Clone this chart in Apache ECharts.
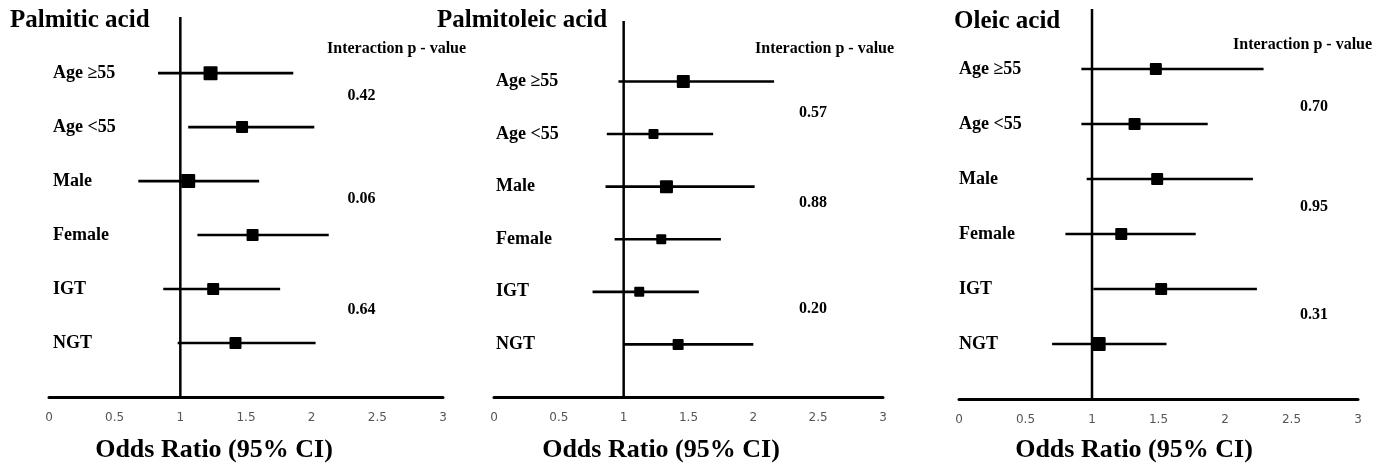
<!DOCTYPE html>
<html>
<head>
<meta charset="utf-8">
<script src="https://cdn.jsdelivr.net/npm/echarts@6/dist/echarts.min.js"></script>
<style>
html,body{margin:0;padding:0;background:#fff;}
#chart{width:1389px;height:464px;}
</style>
</head>
<body>
<div id="chart"></div>
<script>
// ---------- DATA ----------
const panelTitles = ['Palmitic acid', 'Palmitoleic acid', 'Oleic acid'];
const subgroups = ['Age \u226555', 'Age <55', 'Male', 'Female', 'IGT', 'NGT'];
const xTicks = [0, 0.5, 1, 1.5, 2, 2.5, 3];
const refValue = 1;
const headerText = 'Interaction p - value';
const axisTitle = 'Odds Ratio (95% CI)';

// odds ratios, lower and upper 95% CI (order = subgroups)
const palmiticOR    = [1.23, 1.47, 1.06, 1.55, 1.25, 1.42];
const palmiticLo    = [0.83, 1.06, 0.68, 1.13, 0.87, 0.98];
const palmiticHi    = [1.86, 2.02, 1.60, 2.13, 1.76, 2.03];
const palmitoleicOR = [1.46, 1.23, 1.33, 1.29, 1.12, 1.42];
const palmitoleicLo = [0.96, 0.87, 0.86, 0.93, 0.76, 1.00];
const palmitoleicHi = [2.16, 1.69, 2.01, 1.75, 1.58, 2.00];
const oleicOR       = [1.48, 1.32, 1.49, 1.22, 1.52, 1.05];
const oleicLo       = [0.92, 0.92, 0.96, 0.80, 1.01, 0.70];
const oleicHi       = [2.29, 1.87, 2.21, 1.78, 2.24, 1.56];

// interaction p-values (age, sex, glucose tolerance)
const palmiticP    = ['0.42', '0.06', '0.64'];
const palmitoleicP = ['0.57', '0.88', '0.20'];
const oleicP       = ['0.70', '0.95', '0.31'];

// ---------- LAYOUT / STYLE ----------
const panels = [
  {title: panelTitles[0], or: palmiticOR, lo: palmiticLo, hi: palmiticHi, p: palmiticP,
   grid: {left: 49, right: 946, top: 17, bottom: 67}, yMax: 7.04, labelMargin: 4,
   sizes: [14, 12, 14, 12, 12, 12],
   pPos: [[2.38, 5.57], [2.38, 3.67], [2.38, 1.61]],
   titlePos: [10, 21], headerPos: [327, 49], axisTitleX: 214},
  {title: panelTitles[1], or: palmitoleicOR, lo: palmitoleicLo, hi: palmitoleicHi, p: palmitoleicP,
   grid: {left: 494, right: 506, top: 21, bottom: 67}, yMax: 7.15, labelMargin: 2,
   sizes: [13, 10, 13, 10, 10, 11],
   pPos: [[2.46, 5.40], [2.46, 3.69], [2.46, 1.67]],
   titlePos: [437, 21], headerPos: [755, 49], axisTitleX: 661},
  {title: panelTitles[2], or: oleicOR, lo: oleicLo, hi: oleicHi, p: oleicP,
   grid: {left: 959, right: 31, top: 9, bottom: 65}, yMax: 7.09, labelMargin: 0,
   sizes: [12, 12, 12, 12, 12, 14],
   pPos: [[2.67, 5.31], [2.67, 3.49], [2.67, 1.53]],
   titlePos: [954, 22], headerPos: [1233, 45], axisTitleX: 1134}
];

const SERIF = '"Liberation Serif", "DejaVu Serif", serif';
const chart = echarts.init(document.getElementById('chart'), null, {renderer: 'canvas'});

const grids = [], xAxes = [], yAxes = [], series = [], graphics = [];

panels.forEach((pn, i) => {
  grids.push(Object.assign({containLabel: false}, pn.grid));
  xAxes.push({
    type: 'value', gridIndex: i, min: xTicks[0], max: xTicks[xTicks.length - 1], interval: 0.5,
    axisLine: {show: true, onZero: false, lineStyle: {color: '#000', width: 3}},
    axisTick: {show: false}, splitLine: {show: false},
    axisLabel: {color: '#555', fontSize: 12, fontFamily: '"DejaVu Sans", sans-serif', margin: 15,
      formatter: v => String(v)}
  });
  yAxes.push({
    type: 'value', gridIndex: i, min: 0, max: pn.yMax, interval: 1,
    axisLine: {show: false}, axisTick: {show: false}, splitLine: {show: false},
    axisLabel: {inside: true, margin: pn.labelMargin, color: '#000', fontSize: 18, fontWeight: 'bold',
      fontFamily: SERIF, showMaxLabel: false, showMinLabel: false,
      formatter: v => {
        const k = Math.round(v);
        if (Math.abs(v - k) > 1e-6 || k < 1 || k > subgroups.length) return '';
        return subgroups[subgroups.length - k];
      }}
  });
  // reference line at OR = 1
  series.push({
    type: 'line', xAxisIndex: i, yAxisIndex: i, symbol: 'none', silent: true,
    lineStyle: {color: '#000', width: 2.5},
    data: [[refValue, 0], [refValue, pn.yMax]]
  });
  // CI lines + squares
  const rows = subgroups.map((s, j) => [subgroups.length - j, pn.lo[j], pn.or[j], pn.hi[j], j]);
  series.push({
    type: 'custom', xAxisIndex: i, yAxisIndex: i, silent: true,
    encode: {x: [1, 2, 3], y: 0},
    data: rows,
    renderItem: (params, api) => {
      const y = api.value(0);
      const a = api.coord([api.value(1), y]);
      const b = api.coord([api.value(3), y]);
      const c = api.coord([api.value(2), y]);
      const s = pn.sizes[api.value(4)];
      return {type: 'group', children: [
        {type: 'line', shape: {x1: a[0], y1: a[1], x2: b[0], y2: b[1]},
         style: {stroke: '#000', lineWidth: 2.6}},
        {type: 'rect', shape: {x: c[0] - s / 2, y: c[1] - s / 2, width: s, height: s, r: 1},
         style: {fill: '#000'}}
      ]};
    }
  });
  // p-values
  series.push({
    type: 'custom', xAxisIndex: i, yAxisIndex: i, silent: true,
    encode: {x: 0, y: 1},
    data: pn.pPos.map((pp, j) => [pp[0], pp[1], j]),
    renderItem: (params, api) => {
      const c = api.coord([api.value(0), api.value(1)]);
      return {type: 'text', x: c[0], y: c[1], style: {
        text: pn.p[api.value(2)], fill: '#000', align: 'center', verticalAlign: 'middle',
        font: 'bold 16px ' + SERIF}};
    }
  });
  graphics.push({type: 'text', x: pn.titlePos[0], y: pn.titlePos[1],
    style: {text: pn.title, fill: '#000', font: 'bold 25px ' + SERIF, align: 'left', verticalAlign: 'middle'}});
  graphics.push({type: 'text', x: pn.headerPos[0], y: pn.headerPos[1],
    style: {text: headerText, fill: '#000', font: 'bold 16px ' + SERIF, align: 'left', verticalAlign: 'middle'}});
  graphics.push({type: 'text', x: pn.axisTitleX, y: 450,
    style: {text: axisTitle, fill: '#000', font: 'bold 26px ' + SERIF, align: 'center', verticalAlign: 'middle'}});
});

chart.setOption({
  animation: false,
  backgroundColor: '#fff',
  grid: grids, xAxis: xAxes, yAxis: yAxes, series: series, graphic: graphics
});
</script>
</body>
</html>
